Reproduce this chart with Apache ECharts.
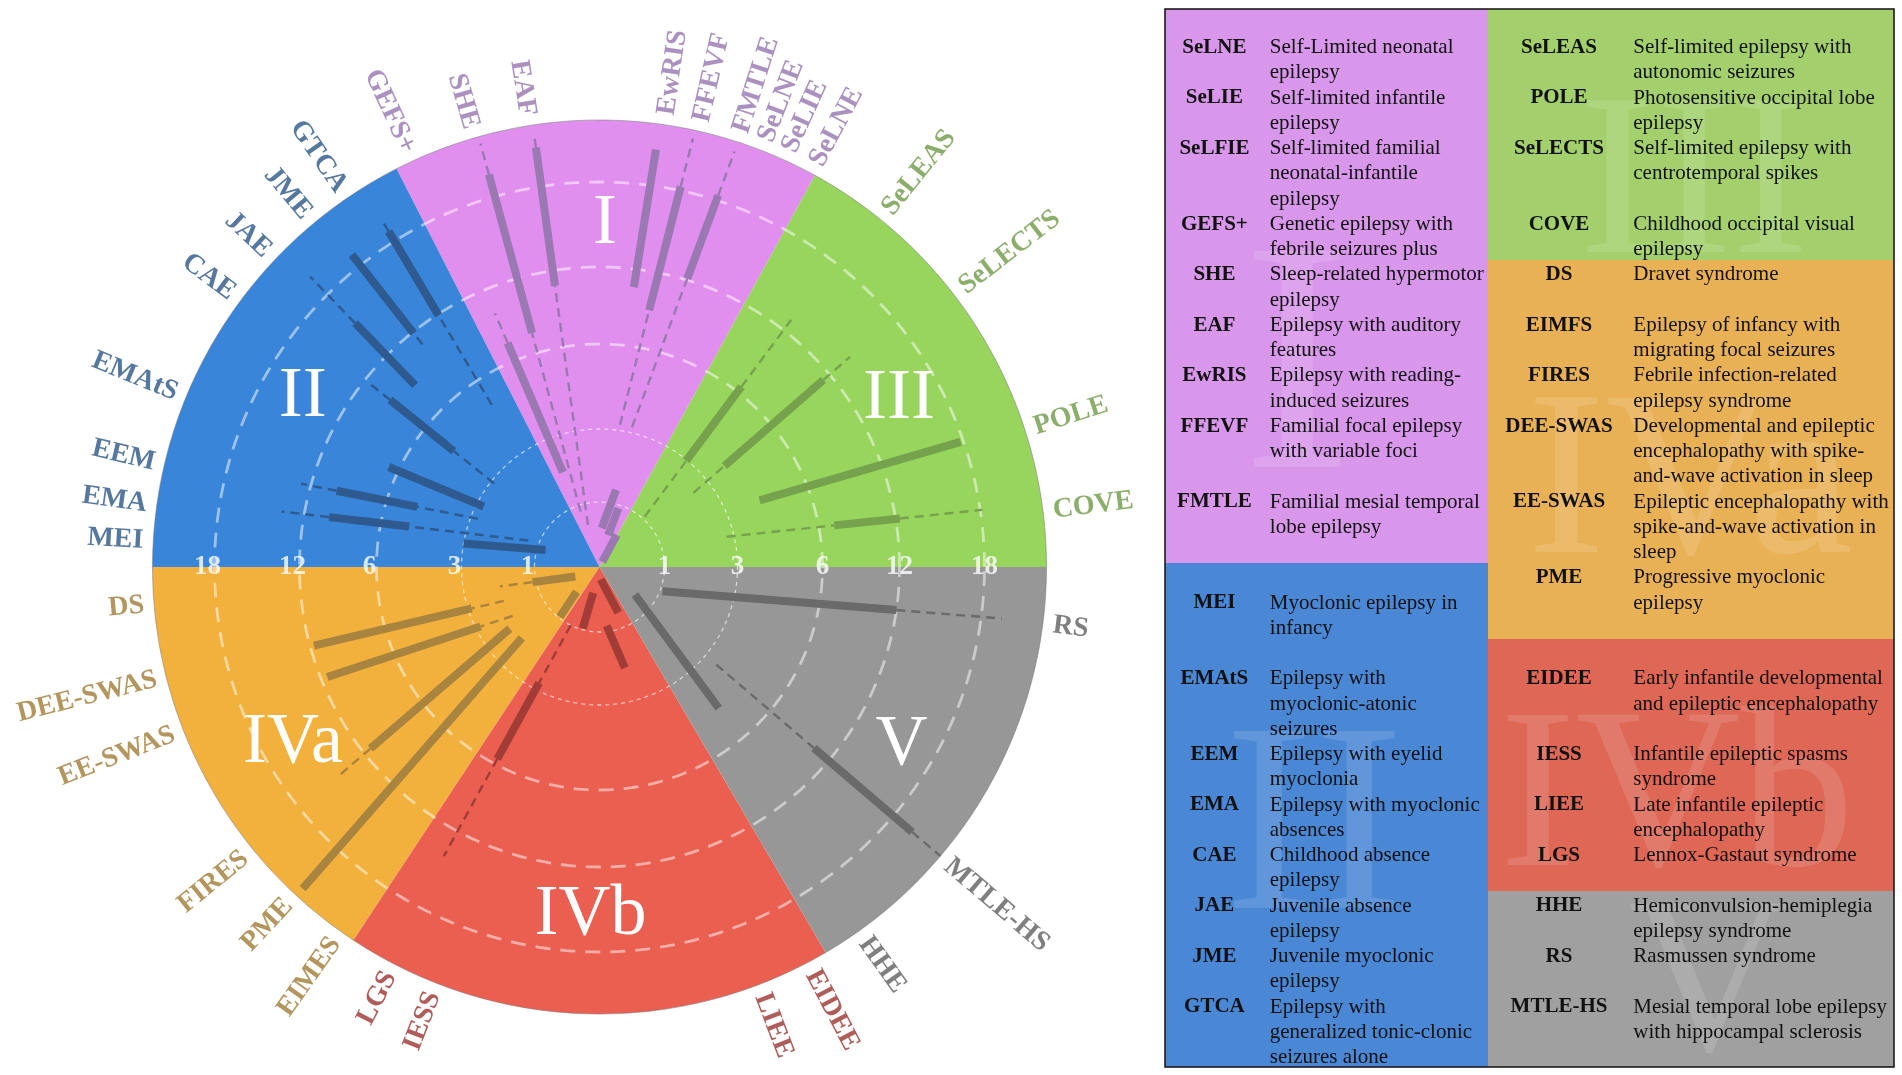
<!DOCTYPE html>
<html>
<head>
<meta charset="utf-8">
<script src="https://cdn.jsdelivr.net/npm/echarts@6/dist/echarts.min.js"></script>
<style>
html,body{margin:0;padding:0;background:#ffffff;}
#chart{width:1902px;height:1075px;}
</style>
</head>
<body>
<div id="chart"></div>
<script>
// ================= DATA =================
// Sector groups, counter-clockwise from 3 o'clock, and their angular spans (degrees)
const SECTOR_NAMES = ['III', 'I', 'II', 'IVa', 'IVb', 'V'];
const SECTOR_SPAN = [61.2, 55.8, 63.0, 56.6, 63.8, 59.6];

// Radial tick labels (age, years)
const AGE_TICKS = [1, 3, 6, 12, 18];

// Syndromes
const NAMES = ['GEFS+','SHE','EAF','EwRIS','FFEVF','FMTLE','SeLNE','SeLIE','SeLFIE',
  'GTCA','JME','JAE','CAE','EMAtS','EEM','EMA','MEI',
  'SeLEAS','SeLECTS','POLE','COVE',
  'DS','DEE-SWAS','EE-SWAS','FIRES','PME','EIMFS',
  'LGS','IESS','LIEE','EIDEE',
  'HHE','MTLE-HS','RS'];
// text printed around the circle
const LABELS = ['GEFS+','SHE','EAF','EwRIS','FFEVF','FMTLE','SeLNE','SeLIE','SeLNE',
  'GTCA','JME','JAE','CAE','EMAtS','EEM','EMA','MEI',
  'SeLEAS','SeLECTS','POLE','COVE',
  'DS','DEE-SWAS','EE-SWAS','FIRES','PME','EIMES',
  'LGS','IESS','LIEE','EIDEE',
  'HHE','MTLE-HS','RS'];
const GROUP = ['I','I','I','I','I','I','I','I','I',
  'II','II','II','II','II','II','II','II',
  'III','III','III','III',
  'IVa','IVa','IVa','IVa','IVa','IVa',
  'IVb','IVb','IVb','IVb',
  'V','V','V'];
// angular positions (degrees, counter-clockwise from 3 o'clock)
const LABEL_ANGLE = [114.7,106.3,99.1,81.6,77.1,72.0,68.7,65.5,61.7,
  124.4,129.8,136.6,143.4,157.7,166.8,172.1,176.7,
  51.0,37.5,17.8,7.1,
  184.8,194.2,201.4,219.2,227.1,234.7,
  242.7,248.7,290.8,297.7,
  305.4,319.6,352.7];
const ANGLE_IN = [111.1,108.8,105.3,83.0,81.8,76.9,86.7,74.6,62.0,
  123.6,128.5,135.4,141.6,152.4,158.4,159.6,162.6,
  48.1,38.3,22.6,13.4,
  201.6,199.5,209.4,214.5,222.4,227.3,
  243.7,256.4,277.0,275.6,
  322.0,320.1,339.0];
const ANGLE_OUT = [112.4,105.7,98.6,82.3,77.7,72.0,77.9,72.2,61.7,
  122.1,128.4,134.9,141.4,154.6,164.4,170.1,170.2,
  52.2,40.0,19.1,8.5,
  191.0,195.4,202.0,218.7,227.3,231.5,
  241.7,254.7,284.1,292.4,
  310.2,319.7,352.7];
// onset ages (years): possible range (dashed) and typical range (solid)
const POSSIBLE_FROM = [2.0,0.9,0.67,10.6,3.2,3.2,0.6,0.51,0.09,
  5.0,10.8,8.8,2.9,2.8,2.8,1.3,0.87,
  1.07,2.5,4.25,2.8,
  0.4,2.0,1.95,2.2,2.1,0.52,
  1.0,0.41,0.91,0.19,
  0.69,3.5,1.07];
const TYPICAL_FROM = [2.0,7.6,10.8,10.6,9.0,12.1,0.6,0.51,0.09,
  11.9,11.9,8.8,4.7,2.8,4.9,5.0,0.87,
  2.97,3.8,4.25,7.2,
  0.4,2.9,2.86,2.2,2.1,0.52,
  2.8,0.41,0.91,0.19,
  0.69,10.5,1.07];
const TYPICAL_TO = [7.5,20.2,21.8,21.5,18.4,18.5,1.38,0.95,0.56,
  19.1,19.3,15.2,9.5,6.8,9.95,10.05,3.0,
  6.5,11.35,17.8,12.3,
  1.1,11.7,11.5,11.4,23.1,0.98,
  5.8,0.98,2.07,0.76,
  4.65,20.4,12.0];
const POSSIBLE_TO = [10.0,23.3,23.0,21.5,23.2,23.0,1.38,0.95,0.56,
  20.2,19.3,20.4,11.8,6.8,12.7,13.6,3.0,
  12.9,13.9,17.8,18.2,
  2.0,11.7,11.5,14.6,23.1,0.98,
  14.0,0.98,2.07,0.76,
  4.65,24.0,20.0];

// Table
const TABLE_LEFT_ABBR = ['SeLNE','SeLIE','SeLFIE','GEFS+','SHE','EAF','EwRIS','FFEVF','FMTLE',
  'MEI','EMAtS','EEM','EMA','CAE','JAE','JME','GTCA'];
const TABLE_LEFT_DESC = [
  'Self-Limited neonatal\nepilepsy',
  'Self-limited infantile\nepilepsy',
  'Self-limited familial\nneonatal-infantile\nepilepsy',
  'Genetic epilepsy with\nfebrile seizures plus',
  'Sleep-related hypermotor\nepilepsy',
  'Epilepsy with auditory\nfeatures',
  'Epilepsy with reading-\ninduced seizures',
  'Familial focal epilepsy\nwith variable foci',
  'Familial mesial temporal\nlobe epilepsy',
  'Myoclonic epilepsy in\ninfancy',
  'Epilepsy with\nmyoclonic-atonic\nseizures',
  'Epilepsy with eyelid\nmyoclonia',
  'Epilepsy with myoclonic\nabsences',
  'Childhood absence\nepilepsy',
  'Juvenile absence\nepilepsy',
  'Juvenile myoclonic\nepilepsy',
  'Epilepsy with\ngeneralized tonic-clonic\nseizures alone'];
const TABLE_RIGHT_ABBR = ['SeLEAS','POLE','SeLECTS','COVE','DS','EIMFS','FIRES','DEE-SWAS','EE-SWAS',
  'PME','EIDEE','IESS','LIEE','LGS','HHE','RS','MTLE-HS'];
const TABLE_RIGHT_DESC = [
  'Self-limited epilepsy with\nautonomic seizures',
  'Photosensitive occipital lobe\nepilepsy',
  'Self-limited epilepsy with\ncentrotemporal spikes',
  'Childhood occipital visual\nepilepsy',
  'Dravet syndrome',
  'Epilepsy of infancy with\nmigrating focal seizures',
  'Febrile infection-related\nepilepsy syndrome',
  'Developmental and epileptic\nencephalopathy with spike-\nand-wave activation in sleep',
  'Epileptic encephalopathy with\nspike-and-wave activation in\nsleep',
  'Progressive myoclonic\nepilepsy',
  'Early infantile developmental\nand epileptic encephalopathy',
  'Infantile epileptic spasms\nsyndrome',
  'Late infantile epileptic\nencephalopathy',
  'Lennox-Gastaut syndrome',
  'Hemiconvulsion-hemiplegia\nepilepsy syndrome',
  'Rasmussen syndrome',
  'Mesial temporal lobe epilepsy\nwith hippocampal sclerosis'];

// ================= STYLE / LAYOUT =================
const SERIF = '"Liberation Serif", "Times New Roman", serif';
const CX = 599.5, CY = 567, R_RIM = 447, R_AXIS = 520, R_LABEL = 457;
// radial scale: age -> radius (px), piecewise between rings
const SCALE_AGE = [0, 1, 3, 6, 12, 18, 24];
const SCALE_R   = [0, 65, 138, 223, 300, 385, 447];
function ageToR(a) {
  for (let k = 1; k < SCALE_AGE.length; k++) {
    if (a <= SCALE_AGE[k] || k === SCALE_AGE.length - 1) {
      const a0 = SCALE_AGE[k-1], a1 = SCALE_AGE[k];
      return SCALE_R[k-1] + (a - a0) / (a1 - a0) * (SCALE_R[k] - SCALE_R[k-1]);
    }
  }
  return 0;
}
const GROUP_STYLE = {
  'I':   {sector:'#E08FEE', bar:'#9A78B2', text:'#9575B0', table:'#D897EB', numOffset: 5},
  'II':  {sector:'#3885D9', bar:'#2E5A8F', text:'#2C5687', table:'#4A87D5', numOffset: 12},
  'III': {sector:'#97D55D', bar:'#76A24E', text:'#6E9A45', table:'#A3D06C', numOffset: 9},
  'IVa': {sector:'#F2B03D', bar:'#A8843F', text:'#A07B36', table:'#E9B156', numOffset: 11},
  'IVb': {sector:'#EB5F51', bar:'#A23C36', text:'#9B3531', table:'#DE6756', numOffset: 0},
  'V':   {sector:'#979797', bar:'#6A6A6A', text:'#5F5F5F', table:'#A0A0A0', numOffset: 5}
};

// point on the straight bar (between its innermost and outermost ends) at a given age
function norm(a){ return ((a % 360) + 360) % 360; }
function onBar(i, age) {
  const r0 = ageToR(POSSIBLE_FROM[i]), r1 = ageToR(POSSIBLE_TO[i]);
  const r = ageToR(age);
  const t0 = ANGLE_IN[i] * Math.PI / 180, t1 = ANGLE_OUT[i] * Math.PI / 180;
  const p = [r0 * Math.cos(t0), r0 * Math.sin(t0)];
  const q = [r1 * Math.cos(t1), r1 * Math.sin(t1)];
  const d = [q[0] - p[0], q[1] - p[1]];
  const A = d[0]*d[0] + d[1]*d[1];
  const B = 2 * (p[0]*d[0] + p[1]*d[1]);
  const C = p[0]*p[0] + p[1]*p[1] - r*r;
  let t = 0;
  if (A > 1e-9) {
    const disc = B*B - 4*A*C;
    t = disc >= 0 ? (-B + Math.sqrt(disc)) / (2*A) : (r - r0) / (r1 - r0 || 1);
  }
  t = Math.max(0, Math.min(1, t));
  const x = p[0] + t*d[0], y = p[1] + t*d[1];
  return [Math.hypot(x, y), norm(Math.atan2(y, x) * 180 / Math.PI)];
}

const series = [];

// sectors
series.push({
  type: 'pie', center: [CX, CY], radius: R_RIM, startAngle: 0, clockwise: false,
  silent: true, z: 1, label: {show: false}, labelLine: {show: false},
  itemStyle: {borderWidth: 0},
  emphasis: {disabled: true},
  data: SECTOR_NAMES.map((n, k) => ({name: n, value: SECTOR_SPAN[k], itemStyle: {color: GROUP_STYLE[n].sector}}))
});

// dashed rings
AGE_TICKS.forEach(t => {
  const r = ageToR(t);
  const data = [];
  for (let a = 0; a <= 360; a += 1) data.push([r, a]);
  const thin = t <= 3;
  series.push({
    type: 'line', coordinateSystem: 'polar', data, symbol: 'none', silent: true, z: 3,
    lineStyle: thin ? {color: 'rgba(255,255,255,0.62)', width: 1.3, type: [4, 4]}
                    : {color: 'rgba(255,255,255,0.5)', width: 2.8, type: [15, 10]}
  });
});
// rim
(function(){
  const data = [];
  for (let a = 0; a <= 360; a += 1) data.push([R_RIM, a]);
  series.push({type: 'line', coordinateSystem: 'polar', data, symbol: 'none', silent: true, z: 3,
    lineStyle: {color: 'rgba(120,120,120,0.55)', width: 1}});
})();

// bars
NAMES.forEach((n, i) => {
  const col = GROUP_STYLE[GROUP[i]].bar;
  const a = onBar(i, POSSIBLE_FROM[i]), b = onBar(i, TYPICAL_FROM[i]),
        c = onBar(i, TYPICAL_TO[i]), d = onBar(i, POSSIBLE_TO[i]);
  const dash = {color: col, width: 2.4, type: [9, 6]};
  if (TYPICAL_FROM[i] > POSSIBLE_FROM[i])
    series.push({type: 'line', coordinateSystem: 'polar', data: [a, b], symbol: 'none', silent: true, z: 4, lineStyle: dash});
  series.push({type: 'line', coordinateSystem: 'polar', data: [b, c], symbol: 'none', silent: true, z: 5,
    lineStyle: {color: col, width: 8, cap: 'butt'}});
  if (POSSIBLE_TO[i] > TYPICAL_TO[i])
    series.push({type: 'line', coordinateSystem: 'polar', data: [c, d], symbol: 'none', silent: true, z: 4, lineStyle: dash});
});

// radial tick labels on the horizontal line
series.push({
  type: 'scatter', coordinateSystem: 'polar', symbolSize: 0.1, silent: true, z: 7,
  itemStyle: {color: 'rgba(0,0,0,0)'},
  label: {show: true, position: 'inside', formatter: '{b}', color: '#ffffff', fontSize: 27,
    fontWeight: 'bold', fontFamily: SERIF, align: 'center', verticalAlign: 'middle'},
  data: AGE_TICKS.flatMap(t => [
    {name: String(t), value: [ageToR(t), 0]},
    {name: String(t), value: [ageToR(t), 180], label: {offset: [-7, 0]}}
  ])
});

// syndrome labels around the circle
series.push({
  type: 'scatter', coordinateSystem: 'polar', symbolSize: 0.1, silent: true, z: 7,
  itemStyle: {color: 'rgba(0,0,0,0)'},
  label: {show: true, position: 'inside', formatter: '{b}', fontSize: 28, fontWeight: 'bold',
    fontFamily: SERIF, verticalAlign: 'middle'},
  data: NAMES.map((n, i) => {
    const d = norm(LABEL_ANGLE[i]);
    const left = d > 90 && d < 270;
    return {
      name: LABELS[i], value: [R_LABEL, LABEL_ANGLE[i]],
      label: {rotate: left ? d - 180 : (d > 270 ? d - 360 : d), align: left ? 'right' : 'left',
        color: GROUP_STYLE[GROUP[i]].text}
    };
  })
});

// roman numerals
series.push({
  type: 'pie', center: [CX, CY], radius: [243, R_RIM], startAngle: 0, clockwise: false,
  silent: true, z: 8, labelLine: {show: false}, emphasis: {disabled: true},
  itemStyle: {color: 'rgba(0,0,0,0)', borderWidth: 0},
  label: {show: true, position: 'inside', formatter: '{b}', color: '#ffffff', fontSize: 72,
    fontFamily: SERIF, rotate: 0},
  data: SECTOR_NAMES.map((n, k) => ({name: n, value: SECTOR_SPAN[k],
    label: {offset: [0, GROUP_STYLE[n].numOffset]}}))
});

// ================= TABLE (graphic) =================
const TABLE = {x0: 1165, x1: 1894, y0: 9, y1: 1067, split: 1488, lineH: 25.25, firstLineY: 47.5,
  abbrLX: 1214.4, descLX: 1269.8, abbrRX: 1559, descRX: 1633.3, font: 21};
const CELLS = [
  {g: 'I',   x0: 1165, x1: 1488, y0: 9,   y1: 563},
  {g: 'II',  x0: 1165, x1: 1488, y0: 563, y1: 1067},
  {g: 'III', x0: 1488, x1: 1894, y0: 9,   y1: 260},
  {g: 'IVa', x0: 1488, x1: 1894, y0: 260, y1: 639},
  {g: 'IVb', x0: 1488, x1: 1894, y0: 639, y1: 891},
  {g: 'V',   x0: 1488, x1: 1894, y0: 891, y1: 1067}
];
const WATERMARKS = [
  {g: 'I',   x: 1297, y: 352, size: 330},
  {g: 'II',  x: 1314, y: 814, size: 270},
  {g: 'III', x: 1694, y: 172, size: 230},
  {g: 'IVa', x: 1690, y: 470, size: 235},
  {g: 'IVb', x: 1677, y: 786, size: 228},
  {g: 'V',   x: 1709, y: 973, size: 222}
];
const ROW_MIN_LINES = {9: 4};
const CENTERED = {'MEI': true};

const graphics = [];
CELLS.forEach(c => graphics.push({type: 'rect', silent: true, z: 0,
  shape: {x: c.x0, y: c.y0, width: c.x1 - c.x0, height: c.y1 - c.y0},
  style: {fill: GROUP_STYLE[c.g].table}}));
WATERMARKS.forEach(w => graphics.push({type: 'text', silent: true, z: 1, x: w.x, y: w.y + 0.085 * w.size,
  style: {text: w.g, font: w.size + 'px ' + SERIF, fill: 'rgba(255,255,255,0.13)', align: 'center', verticalAlign: 'middle'}}));

let rowTop = TABLE.firstLineY - TABLE.lineH / 2;
for (let i = 0; i < TABLE_LEFT_ABBR.length; i++) {
  const lL = TABLE_LEFT_DESC[i].split('\n').length;
  const lR = TABLE_RIGHT_DESC[i].split('\n').length;
  const n = Math.max(lL, lR, ROW_MIN_LINES[i] || 0);
  const cellDefs = [
    {abbr: TABLE_LEFT_ABBR[i], desc: TABLE_LEFT_DESC[i], lines: lL, ax: TABLE.abbrLX, dx: TABLE.descLX},
    {abbr: TABLE_RIGHT_ABBR[i], desc: TABLE_RIGHT_DESC[i], lines: lR, ax: TABLE.abbrRX, dx: TABLE.descRX}
  ];
  cellDefs.forEach(cd => {
    const top = CENTERED[cd.abbr] ? rowTop + (n - cd.lines) / 2 * TABLE.lineH : rowTop;
    graphics.push({type: 'text', silent: true, z: 2, x: cd.ax, y: top + TABLE.lineH / 2,
      style: {text: cd.abbr, font: 'bold ' + TABLE.font + 'px ' + SERIF, fill: '#111111', align: 'center', verticalAlign: 'middle'}});
    graphics.push({type: 'text', silent: true, z: 2, x: cd.dx, y: top,
      style: {text: cd.desc, font: TABLE.font + 'px ' + SERIF, fill: '#111111', align: 'left', verticalAlign: 'top', lineHeight: TABLE.lineH}});
  });
  rowTop += n * TABLE.lineH;
}
graphics.push({type: 'rect', silent: true, z: 5,
  shape: {x: TABLE.x0, y: TABLE.y0, width: TABLE.x1 - TABLE.x0, height: TABLE.y1 - TABLE.y0},
  style: {fill: 'none', stroke: '#111111', lineWidth: 1.5}});

// ================= CHART =================
const chart = echarts.init(document.getElementById('chart'), null, {renderer: 'canvas', width: 1902, height: 1075});
chart.setOption({
  animation: false,
  backgroundColor: '#ffffff',
  polar: {center: [CX, CY], radius: R_AXIS},
  angleAxis: {type: 'value', min: 0, max: 360, startAngle: 0, clockwise: false, show: false,
    axisLine: {show: false}, axisTick: {show: false}, axisLabel: {show: false}, splitLine: {show: false}},
  radiusAxis: {type: 'value', min: 0, max: R_AXIS, show: false,
    axisLine: {show: false}, axisTick: {show: false}, axisLabel: {show: false}, splitLine: {show: false}},
  series: series,
  graphic: {elements: graphics}
});
</script>
</body>
</html>
